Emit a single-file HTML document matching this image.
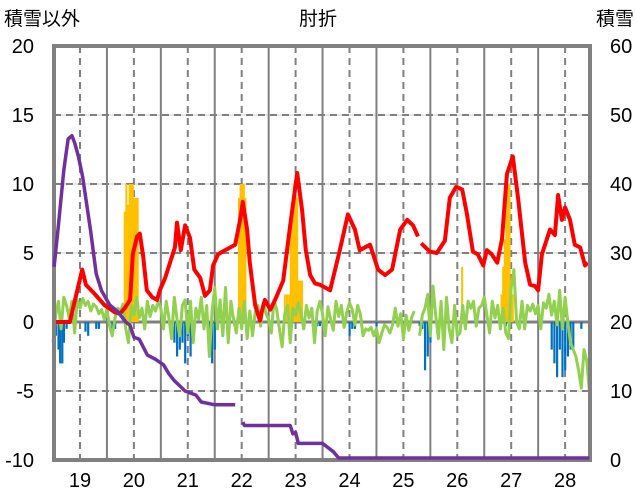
<!DOCTYPE html>
<html><head><meta charset="utf-8">
<style>
body{margin:0;background:#fff;}
svg{display:block;font-family:"Liberation Sans","Noto Sans CJK JP",sans-serif;}
</style></head>
<body>
<svg id="chart" width="636" height="501"></svg>
<script>
const yearTicks=[19,20,21,22,23,24,25,26,27,28];
const leftTicks=[20,15,10,5,0,-5,-10];
const rightTicks=[60,50,40,30,20,10,0];
const redT=[18.52,18.81,19.04,19.11,19.28,19.46,19.65,19.74,19.83,19.93,19.98,20.06,20.11,20.17,20.24,20.34,20.43,20.48,20.58,20.67,20.76,20.80,20.87,20.95,21.04,21.12,21.23,21.32,21.41,21.47,21.56,21.69,21.88,21.97,22.02,22.10,22.15,22.25,22.34,22.38,22.43,22.53,22.62,22.77,22.90,23.03,23.12,23.19,23.27,23.36,23.45,23.64,23.82,23.97,24.10,24.19,24.38,24.53,24.66,24.79,24.94,25.07,25.18,25.27,25.30,25.33,25.49,25.62,25.77,25.86,25.98,26.09,26.18,26.29,26.38,26.48,26.55,26.64,26.74,26.83,26.92,27.03,27.13,27.26,27.35,27.44,27.50,27.57,27.72,27.81,27.87,27.94,28.00,28.09,28.18,28.28,28.37,28.42];
const redV=[0,0,3.8,2.7,2,1.2,0.7,0.6,1,1.6,4.9,6.2,6.4,4.8,2.3,1.8,1.6,2.3,3.2,4.3,5.4,7.2,5.2,7,6.1,3.8,3.2,1.9,2.3,4.1,4.9,5.2,5.6,7.4,8.7,6.7,4.3,1.2,0.1,0.9,1.6,0.9,1.6,3,7,10.8,8.1,5.2,3.4,2.8,2.7,2.3,5.2,7.8,6.7,5.2,5.6,3.8,3.4,3.8,6.7,7.4,7,6.2,null,5.7,5.1,5,5.9,9.0,9.8,9.6,7.8,5.1,4.9,4.1,5.2,4.9,4.3,6,10.7,12,8.9,4.3,2.7,2.6,2.3,4.9,6.7,6.3,9.2,7.4,8.3,7.4,5.6,5.4,4.1,4.3];
const greenStart=18.5, greenStep=0.05;
const greenV=[-1.5,0.5,1.5,-0.5,1.8,1.2,0.3,1.5,-0.8,1.6,1.0,1.7,1.2,1.5,0.8,1.3,1.1,0.6,0.9,0.2,
0.9,-0.3,-1.0,0.3,1.0,0.8,1.3,-0.5,-1.5,1.2,0.5,1.8,0.3,1.0,-0.5,1.5,0.4,1.2,0.8,1.5,
1.0,-0.5,1.5,0.3,-1.2,1.8,0.2,-1.0,1.2,1.6,-0.8,1.5,-1.5,1.0,0.2,1.8,-0.5,1.2,-2.5,0.8,
2.5,-0.5,1.6,-1.0,2.5,-1.5,1.5,0.2,-0.8,1.0,-0.5,1.5,-1.2,0.8,-1.0,0.7,1.2,-0.3,1.4,0.6,
0.2,-0.8,1.6,0.9,-0.5,-1.8,0.6,1.2,-1.5,1.0,0.5,1.4,0.6,-0.5,1.2,0.3,1.0,-1.5,0.8,1.5,
0.6,-1.0,1.1,0.2,-0.6,1.5,0.4,1.2,-0.4,0.7,1.4,0.9,-0.2,1.2,0.6,-1.0,-0.5,-0.6,-0.4,-1.0,
-0.5,-1.5,-0.8,-0.2,-0.4,-0.8,-0.2,1.0,-0.3,0.6,-1.2,0.5,-0.6,0.3,0.8,null,-1.0,0.5,1.0,2.0,
-1.0,2.6,0.5,-1.2,1.5,-2.0,1.8,-0.5,-1.5,1.2,-1.0,-0.8,1.2,-0.5,1.5,1.0,1.5,-0.3,1.0,1.2,
1.8,0.5,-0.8,1.5,0.3,1.2,-0.5,1.0,-0.8,-1.2,2.5,3.8,0.0,-0.5,1.5,-0.5,1.2,0.8,1.3,0.6,
1.2,-0.5,1.4,1.0,2.0,0.5,1.5,-0.2,2.3,-0.5,1.8,0.0,-1.5,-2.0,-2.5,-3.5,-4.8,-2.0,-2.8,-5.0];
const purpleT=[18.52,18.6,18.7,18.78,18.85,18.9,18.97,19.05,19.2,19.3,19.4,19.55,19.7,19.85,19.93,20.0,20.1,20.25,20.4,20.55,20.65,20.75,20.95,21.15,21.25,21.5,21.6,21.7,21.88,21.95,22.02,22.05,22.9,22.95,23.0,23.05,23.1,23.5,23.7,23.8,28.45];
const purpleV=[28,34,42,46.5,47,46,44,41,33,27,24.5,22.5,21.5,20,19.5,17.8,17.5,15.2,14.6,13.8,12.5,11.5,10,9.4,8.4,8,8,8,8,null,5.5,5,5,3.8,4,2.4,2.4,2.4,1.2,0,0];
const yellowT=[19.83,19.86,19.89,19.92,19.95,19.98,20.01,20.04,20.07,21.95,21.98,22.01,22.04,22.07,22.80,22.84,22.88,22.91,22.94,22.97,23.00,23.03,23.06,23.09,23.12,26.09,26.82,26.85,26.88,26.91,26.94,26.97,27.00,27.03];
const yellowV=[8,10,8.5,10,10,10,9,9,9,9,10,10,10,9,2,2,2,8,8,10,10,9,3,3,3,4,2,4,6,9,10,10,3,2];
const blueT=[18.55,18.6,18.63,18.67,18.7,18.75,19.1,19.15,19.3,19.35,19.6,19.65,20.7,20.75,20.8,20.85,20.9,20.95,21.0,21.05,21.1,21.3,21.4,21.45,21.5,23.4,23.45,24.0,24.05,24.1,24.5,25.3,25.35,25.4,25.45,25.5,26.9,27.75,27.8,27.85,27.9,27.95,28.0,28.05,28.1,28.15,28.3];
const blueV=[-1,-2,-3,-3,-1.5,-0.5,-0.7,-1,-0.5,-0.5,-0.5,-0.5,-0.8,-1.5,-2.5,-2,-1.5,-3,-1,-2.5,-0.5,-0.5,-1,-3,-2,-0.3,-0.3,-1,-0.5,-0.5,-0.3,-0.3,-0.5,-3.5,-2.5,-1.5,-0.3,-2,-3,-4,-2,-4,-3.5,-2.5,-2,-2,-0.5];

const NS='http://www.w3.org/2000/svg';
const svg=document.getElementById('chart');
const L=54,R=590,T=46,B=460;
const xs=t=>80+(t-19)*53.9;
const yl=v=>322-v*13.8;
const yr=v=>Math.min(458,460-v*6.9);
function mk(tag,attrs,parent){const e=document.createElementNS(NS,tag);for(const k in attrs)e.setAttribute(k,attrs[k]);(parent||svg).appendChild(e);return e;}

const grid=mk('g',{});


[15,10,5,-5].forEach(v=>{
  mk('line',{x1:L,x2:R,y1:yl(v),y2:yl(v),stroke:'#d0d0d0','stroke-width':1},grid);
  const l=mk('line',{x1:L,x2:R,y1:yl(v),y2:yl(v),stroke:'#808080','stroke-width':2,'stroke-dasharray':'7,5'},grid);
  
  
});
yearTicks.forEach(y=>{
  const d=mk('line',{x1:xs(y),x2:xs(y),y1:T,y2:B,stroke:'#808080','stroke-width':2,'stroke-dasharray':'7,5'},grid);
  
  
  if(y<28){const s=mk('line',{x1:xs(y+0.5),x2:xs(y+0.5),y1:T,y2:B,stroke:'#808080','stroke-width':2},grid);
  
  }
});
const zl=mk('line',{x1:L,x2:R,y1:yl(0),y2:yl(0),stroke:'#808080','stroke-width':3});



yellowT.forEach((t,i)=>{const r=mk('rect',{x:xs(t)-1,y:yl(yellowV[i]),width:2,height:yl(0)-yl(yellowV[i]),fill:'#ffc000'});

});
blueT.forEach((t,i)=>{const r=mk('rect',{x:xs(t)-1,y:yl(0),width:2.2,height:yl(blueV[i])-yl(0),fill:'#0070c0'});

});

function pathFrom(ts,vs,fy){let d='',pen=false;ts.forEach((t,i)=>{const v=vs[i];if(v===null){pen=false;return;}d+=(pen?'L':'M')+xs(t).toFixed(1)+','+fy(v).toFixed(1);pen=true;});return d;}
const greenT=greenV.map((_,i)=>greenStart+i*greenStep);
const g=mk('path',{d:pathFrom(greenT,greenV,yl),fill:'none',stroke:'#92d050','stroke-width':3,'stroke-linejoin':'round'});


const r=mk('path',{d:pathFrom(redT,redV,yl),fill:'none',stroke:'#ff0000','stroke-width':4,'stroke-linejoin':'round'});



const fr=mk('rect',{x:L,y:T,width:R-L,height:B-T,fill:'none',stroke:'#808080','stroke-width':4});



const p=mk('path',{d:pathFrom(purpleT,purpleV,yr),fill:'none',stroke:'#7030a0','stroke-width':3.5,'stroke-linejoin':'round'});



leftTicks.forEach(v=>{const t=mk('text',{x:34,y:yl(v)+7,'text-anchor':'end','font-size':20,fill:'#000'});t.textContent=v;

});
rightTicks.forEach(v=>{const t=mk('text',{x:610,y:(460-v*6.9)+7,'text-anchor':'start','font-size':20,fill:'#000'});t.textContent=v;

});
yearTicks.forEach(y=>{const t=mk('text',{x:xs(y),y:487,'text-anchor':'middle','font-size':20,fill:'#000'});t.textContent=y;

});
const tt=mk('text',{x:318,y:25,'text-anchor':'middle','font-size':19});tt.textContent='肘折';


const la=mk('text',{x:4,y:25,'font-size':19});la.textContent='積雪以外';


const ra=mk('text',{x:596,y:25,'font-size':19});ra.textContent='積雪';


</script>
</body></html>
